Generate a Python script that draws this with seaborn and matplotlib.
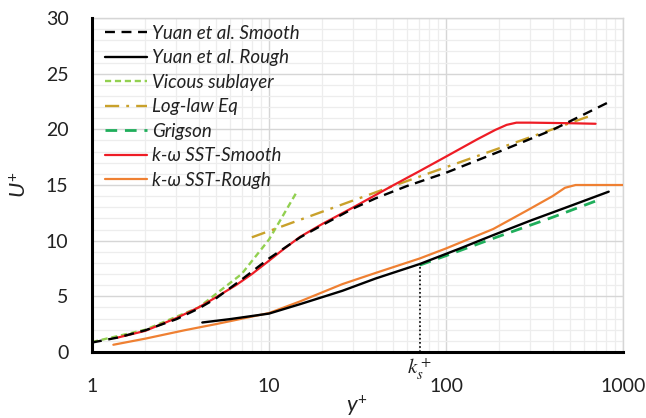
import matplotlib
matplotlib.use("Agg")
import matplotlib.pyplot as plt
import seaborn as sns
import pandas as pd
from matplotlib.ticker import FixedLocator, NullFormatter, FixedFormatter

# ---------------- data ----------------
yuan_smooth_x = [1, 1.4, 2, 3, 4, 5, 7, 10, 15, 20, 30, 40, 60, 100, 200, 400, 870]
yuan_smooth_y = [0.85, 1.3, 1.95, 2.95, 3.9, 4.8, 6.5, 8.4, 10.3, 11.4, 12.9, 13.8, 14.9, 16.1, 18.0, 19.95, 22.6]

yuan_rough_x = [4.2, 6, 10, 15, 26, 40, 71, 120, 185, 300, 500, 830]
yuan_rough_y = [2.65, 2.95, 3.45, 4.3, 5.5, 6.6, 7.9, 9.3, 10.5, 11.8, 13.1, 14.4]

viscous_x = [1, 2, 4, 7, 10, 14.5]
viscous_y = [0.9, 2, 4, 7, 10.1, 14.5]

loglaw_x = [8, 20, 50, 100, 300, 650]
loglaw_y = [10.3, 12.6, 14.9, 16.6, 19.3, 21.2]

grigson_x = [71, 100, 200, 400, 740]
grigson_y = [7.8, 8.65, 10.4, 12.1, 13.7]

sst_smooth_x = [1.4, 2, 3, 4, 5, 6.5, 8, 10, 12, 15, 20, 30, 40, 50, 70, 100, 150, 190, 220, 250, 300, 500, 700]
sst_smooth_y = [1.3, 1.9, 3.05, 4.0, 4.9, 6.0, 7.0, 8.2, 9.2, 10.35, 11.5, 13.0, 14.1, 14.95, 16.2, 17.55, 19.1, 19.95, 20.4, 20.6, 20.6, 20.55, 20.5]

sst_rough_x = [1.32, 2, 3.35, 5, 10, 15, 26, 40, 71, 100, 185, 286, 400, 470, 540, 1000]
sst_rough_y = [0.65, 1.2, 1.96, 2.5, 3.5, 4.55, 6.1, 7.1, 8.4, 9.3, 11.05, 12.7, 14.0, 14.75, 15.0, 15.0]

ks_plus_x = [71, 71]
ks_plus_y = [0, 7.9]

series_labels = ["Yuan et al. Smooth", "Yuan et al. Rough", "Vicous sublayer",
                 "Log-law Eq", "Grigson", "k-ω SST-Smooth", "k-ω SST-Rough"]
x_tick_labels = ["1", "10", "100", "1000"]
y_tick_labels = ["0", "5", "10", "15", "20", "25", "30"]

# ---------------- styling ----------------
sns.set_theme(style="white")
plt.rcParams["font.family"] = ["Lato", "DejaVu Sans"]
plt.rcParams["mathtext.fontset"] = "custom"
plt.rcParams["mathtext.it"] = "Lato:italic"
plt.rcParams["mathtext.rm"] = "Lato"

W, H = 646, 418
fig = plt.figure(figsize=(W / 100, H / 100), dpi=100)
L, R, T, B = 92, 623, 18, 352
ax = fig.add_axes([L / W, 1 - B / H, (R - L) / W, (B - T) / H])

def draw(x, y, color, ls, lw, label, z):
    df = pd.DataFrame({"x": x, "y": y})
    sns.lineplot(data=df, x="x", y="y", ax=ax, color=color, linestyle=ls,
                 linewidth=lw, sort=False, estimator=None, label=label, zorder=z)

draw(yuan_smooth_x, yuan_smooth_y, "black", (0, (4.2, 2.8)), 1.7, series_labels[0], 6)
draw(yuan_rough_x, yuan_rough_y, "black", "-", 1.7, series_labels[1], 5)
draw(viscous_x, viscous_y, "#92d050", (0, (2.6, 1.6)), 1.7, series_labels[2], 4)
draw(loglaw_x, loglaw_y, "#c9a12b", (0, (6, 3, 1.2, 3)), 1.7, series_labels[3], 4)
draw(grigson_x, grigson_y, "#1fae5b", (0, (4.2, 2.8)), 2.0, series_labels[4], 4)
draw(sst_smooth_x, sst_smooth_y, "#ee1c25", "-", 1.6, series_labels[5], 5)
draw(sst_rough_x, sst_rough_y, "#ef8032", "-", 1.6, series_labels[6], 4)
df_ks = pd.DataFrame({"x": ks_plus_x, "y": ks_plus_y})
sns.lineplot(data=df_ks, x="x", y="y", ax=ax, color="black", linestyle=(0, (1, 1.5)),
             linewidth=1.2, sort=False, estimator=None, zorder=3)

ax.set_xscale("log")
ax.set_xlim(1, 1000)
ax.set_ylim(0, 30)
ax.xaxis.set_major_locator(FixedLocator([1, 10, 100, 1000]))
ax.xaxis.set_major_formatter(FixedFormatter(x_tick_labels))
minor_x = [m * d for d in (1, 10, 100) for m in range(2, 10)]
ax.xaxis.set_minor_locator(FixedLocator(minor_x))
ax.xaxis.set_minor_formatter(NullFormatter())
ax.yaxis.set_major_locator(FixedLocator([0, 5, 10, 15, 20, 25, 30]))
ax.yaxis.set_major_formatter(FixedFormatter(y_tick_labels))
ax.yaxis.set_minor_locator(FixedLocator([v for v in range(31) if v % 5]))

ax.grid(which="major", color="#d6d6d6", linewidth=1.0)
ax.grid(which="minor", color="#ededed", linewidth=0.9)
ax.set_axisbelow(True)

ax.tick_params(which="both", length=0)
ax.tick_params(axis="y", labelsize=14, pad=17, colors="#222222")
ax.tick_params(axis="x", labelsize=14, pad=19, colors="#222222")
ax.set_xlabel("")
ax.set_ylabel("")

for s in ("left", "bottom"):
    ax.spines[s].set_color("black")
    ax.spines[s].set_linewidth(2.2)
    ax.spines[s].set_zorder(10)
for s in ("top", "right"):
    ax.spines[s].set_color("#d6d6d6")
    ax.spines[s].set_linewidth(1.0)

fig.text(20 / W, 1 - 185 / H, r"$U^{+}$", rotation=90, ha="center", va="center",
         fontsize=16, color="#222222")
fig.text(357 / W, 1 - 406 / H, r"$y^{+}$", ha="center", va="center",
         fontsize=16, color="#222222")
ax.text(71, -0.4, r"$k_s^+$", ha="center", va="top", fontsize=15,
        math_fontfamily="stix", color="#222222")

handles, labels = ax.get_legend_handles_labels()
leg = ax.legend(handles, labels, loc="upper left", bbox_to_anchor=(0.0174, 0.991),
                frameon=False, prop={"style": "italic", "size": 13.5},
                handlelength=2.25, handletextpad=0.27, labelspacing=0.4,
                borderaxespad=0.0, borderpad=0.2)
for t in leg.get_texts():
    t.set_color("#222222")

fig.savefig("out.png", dpi=100)
